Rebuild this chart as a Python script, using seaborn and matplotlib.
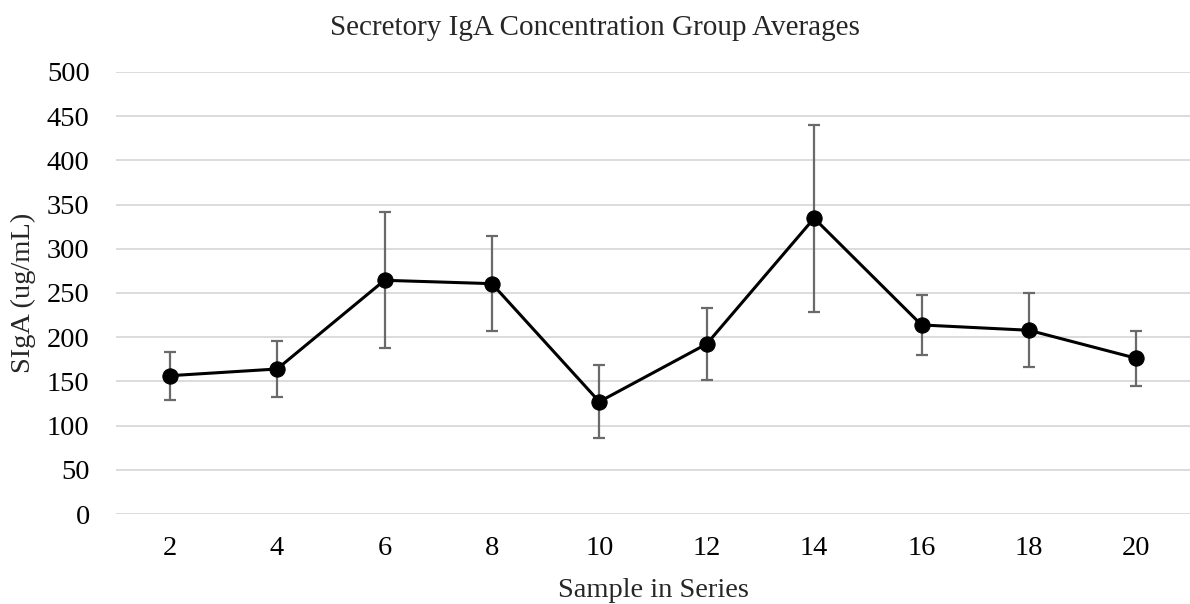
import matplotlib
matplotlib.use("Agg")
import matplotlib.pyplot as plt
import seaborn as sns
import pandas as pd

# Group averages of secretory IgA with their error margins
samples = [2, 4, 6, 8, 10, 12, 14, 16, 18, 20]
siga_mean = [156.4, 164.0, 264.3, 260.5, 127.0, 192.3, 334.5, 213.8, 207.8, 176.1]
siga_err = [27.0, 32.0, 77.0, 53.5, 41.5, 40.8, 105.6, 34.3, 42.0, 31.3]
y_ticks = [0, 50, 100, 150, 200, 250, 300, 350, 400, 450, 500]

df = pd.DataFrame({"sample": samples, "siga": siga_mean, "err": siga_err})

sns.set_theme(style="white")
plt.rcParams["font.family"] = ["Liberation Serif", "DejaVu Serif"]

fig = plt.figure(figsize=(11.9, 6.04), dpi=100)
ax = fig.add_axes([0.0975, 0.149, 0.9025, 0.732])

ax.errorbar(df["sample"], df["siga"], yerr=df["err"], fmt="none",
            ecolor="#6a6a6a", elinewidth=1.6, capsize=4.5, capthick=1.6, zorder=2)
sns.lineplot(data=df, x="sample", y="siga", ax=ax, color="black", linewidth=2.2,
             marker="o", markersize=11, markeredgecolor="black", zorder=3)

ax.set_xlim(1, 21)
ax.set_ylim(0, 500)
ax.set_xticks(samples)
ax.set_yticks(y_ticks)
ax.yaxis.grid(True, color="#d9d9d9", linewidth=1.3)
ax.xaxis.grid(False)
ax.set_axisbelow(True)
for s in ax.spines.values():
    s.set_visible(False)
ax.tick_params(axis="both", length=0, labelsize=20.5, colors="black")
ax.tick_params(axis="y", pad=19)
ax.tick_params(axis="x", pad=16)

ax.set_xlabel("Sample in Series", fontsize=20.5, labelpad=12)
ax.set_ylabel("SIgA (ug/mL)", fontsize=20.5, labelpad=8)
fig.text(0.50, 0.953, "Secretory IgA Concentration Group Averages",
         ha="center", va="center", fontsize=21)

fig.savefig("out.png", dpi=100)
